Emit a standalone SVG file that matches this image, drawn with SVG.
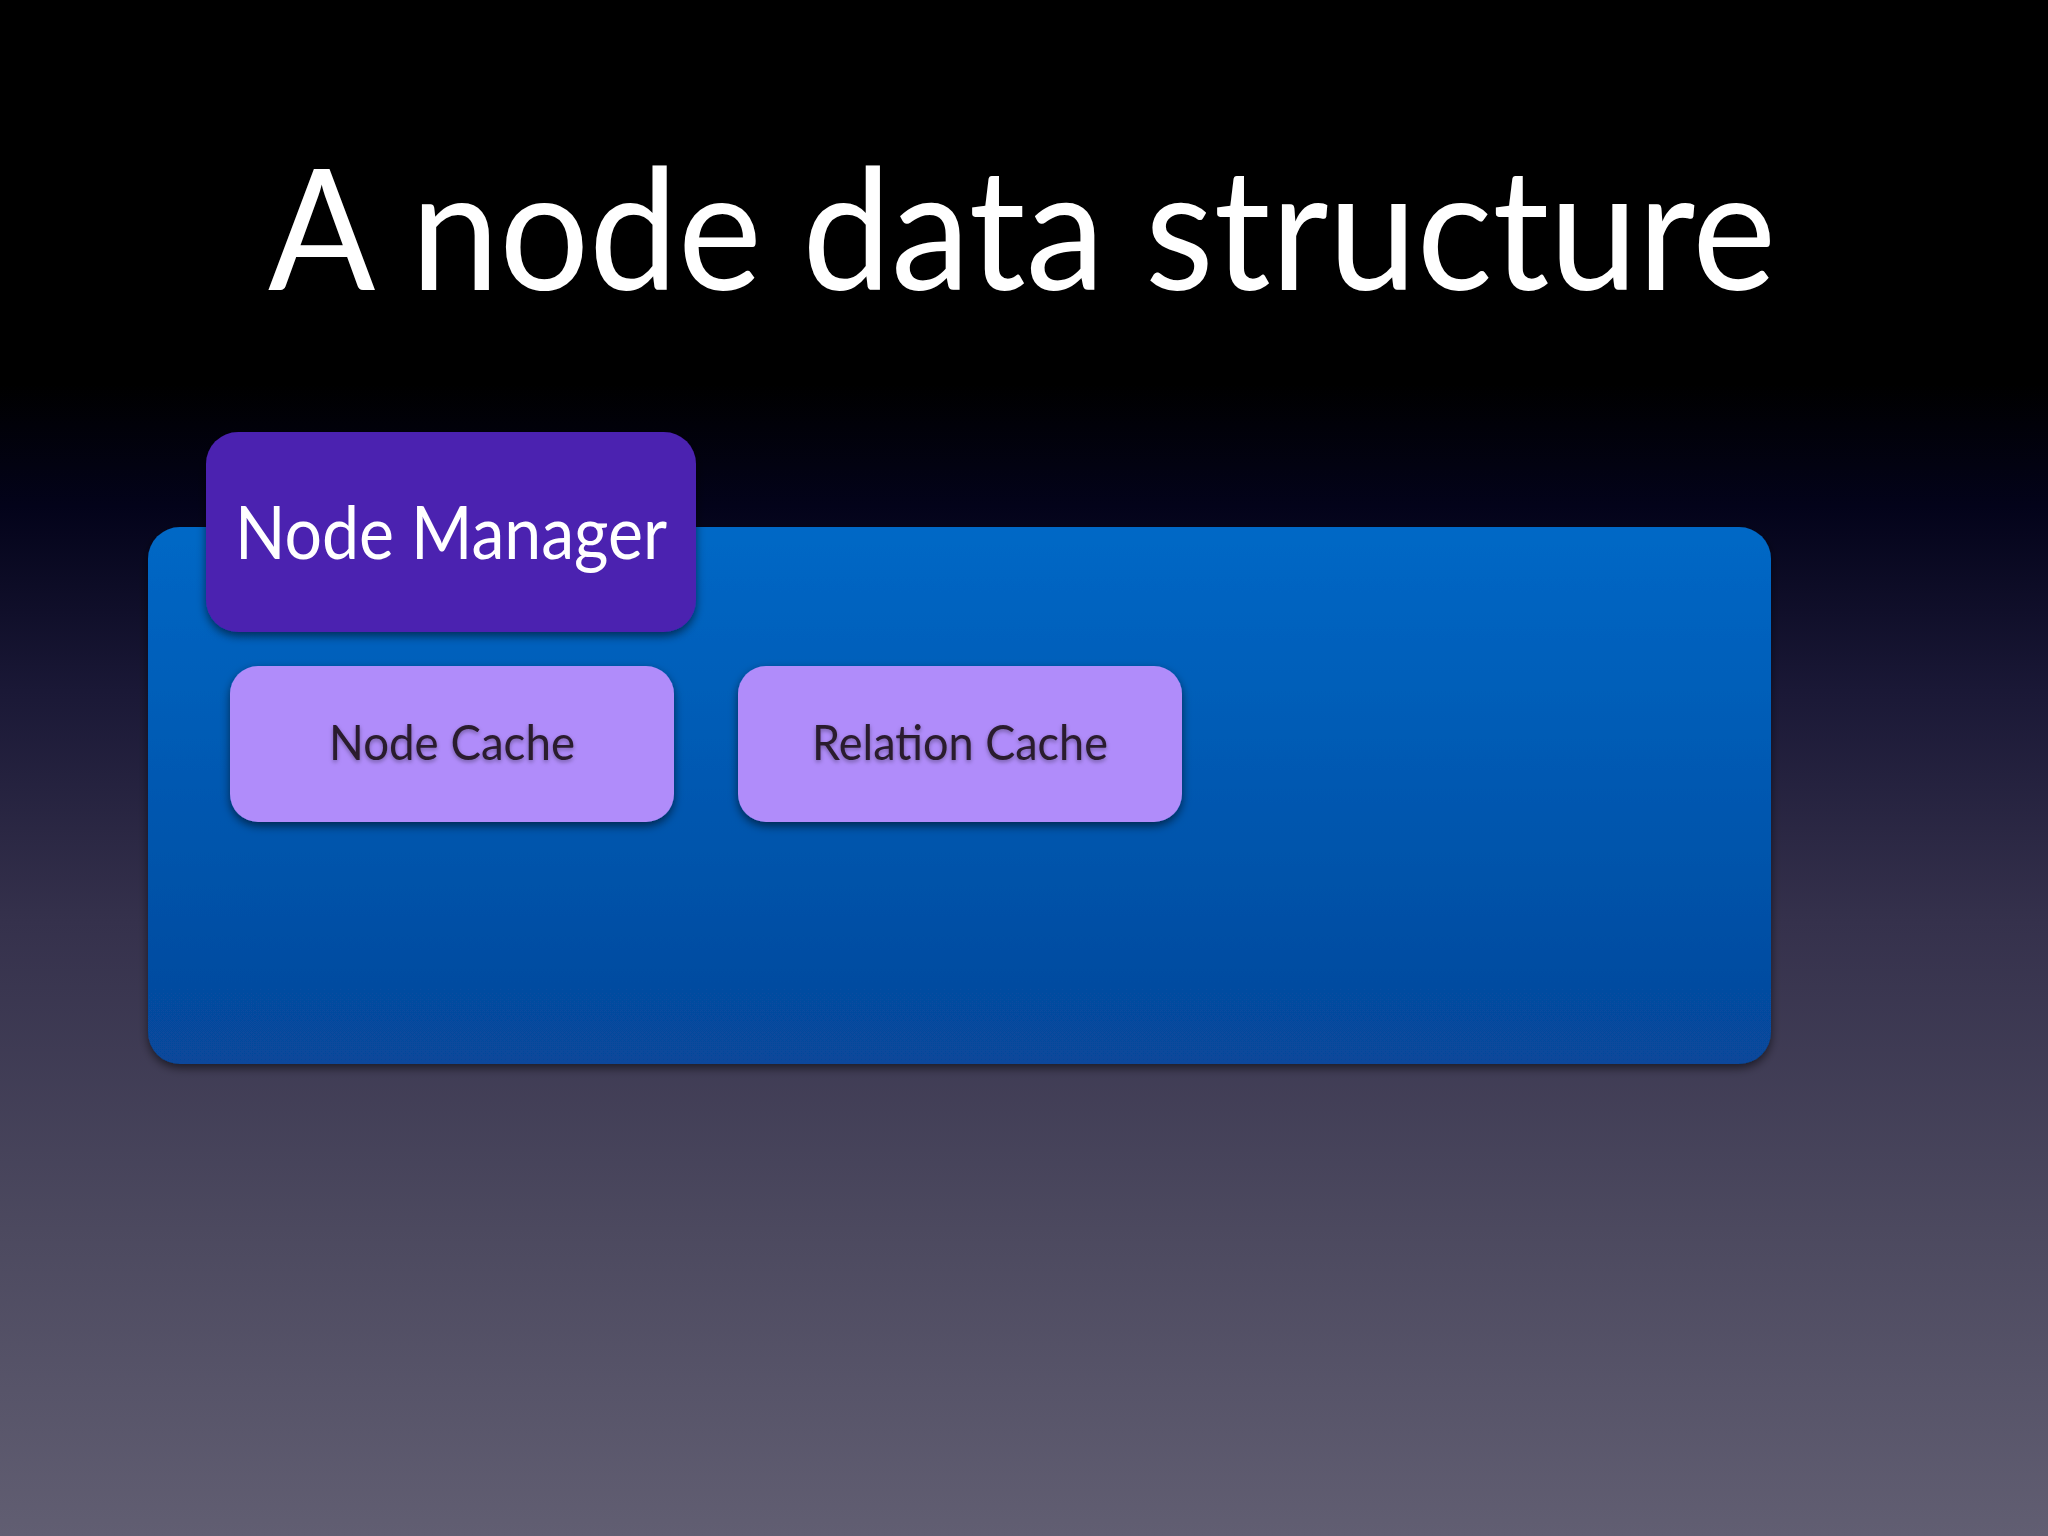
<svg xmlns="http://www.w3.org/2000/svg" width="2048" height="1536" viewBox="0 0 2048 1536">
  <defs>
    <linearGradient id="bg" x1="0" y1="0" x2="0" y2="1">
      <stop offset="0" stop-color="#000000"/>
      <stop offset="0.25" stop-color="#000000"/>
      <stop offset="0.33" stop-color="#03031a"/>
      <stop offset="0.45" stop-color="#1a1836"/>
      <stop offset="0.6" stop-color="#35314c"/>
      <stop offset="0.8" stop-color="#4c495f"/>
      <stop offset="1" stop-color="#615e72"/>
    </linearGradient>
    <linearGradient id="blue" x1="0" y1="0" x2="0" y2="1">
      <stop offset="0" stop-color="#0068c6"/>
      <stop offset="1" stop-color="#07479a"/>
    </linearGradient>
    <filter id="shadow" x="-10%" y="-10%" width="120%" height="130%">
      <feDropShadow dx="0" dy="4" stdDeviation="5" flood-color="#000000" flood-opacity="0.55"/>
    </filter>
    <filter id="tshadow" x="-5%" y="-20%" width="110%" height="150%">
      <feDropShadow dx="0" dy="2" stdDeviation="2" flood-color="#000000" flood-opacity="0.35"/>
    </filter>
  </defs>
  <style>
    .title { font-family: "Lato", "Open Sans", "Liberation Sans", sans-serif; fill: #ffffff; font-size: 168px; }
    .mgr { font-family: "Lato", "Open Sans", "Liberation Sans", sans-serif; fill: #ffffff; font-size: 74px; }
    .cache { font-family: "Lato", "Open Sans", "Liberation Sans", sans-serif; fill: #2a1c2e; font-size: 48px; }
    .cachebox { fill: #b08cfa; }
  </style>
  <rect x="0" y="0" width="2048" height="1536" fill="url(#bg)"/>
  <text class="title" x="268" y="290" textLength="1508" lengthAdjust="spacingAndGlyphs">A node data structure</text>

  <g id="container">
    <rect x="148" y="527" width="1623" height="537" rx="32" ry="32" fill="url(#blue)" filter="url(#shadow)"/>
  </g>
  <g id="node-manager">
    <rect x="206" y="432" width="490" height="200" rx="32" ry="32" fill="#4b20b0" filter="url(#shadow)"/>
    <text class="mgr" x="235" y="559" textLength="432" lengthAdjust="spacingAndGlyphs">Node Manager</text>
  </g>
  <g id="node-cache">
    <rect class="cachebox" x="230" y="666" width="444" height="156" rx="28" ry="28" filter="url(#shadow)"/>
    <text class="cache" x="329" y="760" textLength="246" lengthAdjust="spacingAndGlyphs" filter="url(#tshadow)">Node Cache</text>
  </g>
  <g id="relation-cache">
    <rect class="cachebox" x="738" y="666" width="444" height="156" rx="28" ry="28" filter="url(#shadow)"/>
    <text class="cache" x="812" y="760" textLength="296" lengthAdjust="spacingAndGlyphs" filter="url(#tshadow)">Relation Cache</text>
  </g>
  <g id="connectors"/>
</svg>
